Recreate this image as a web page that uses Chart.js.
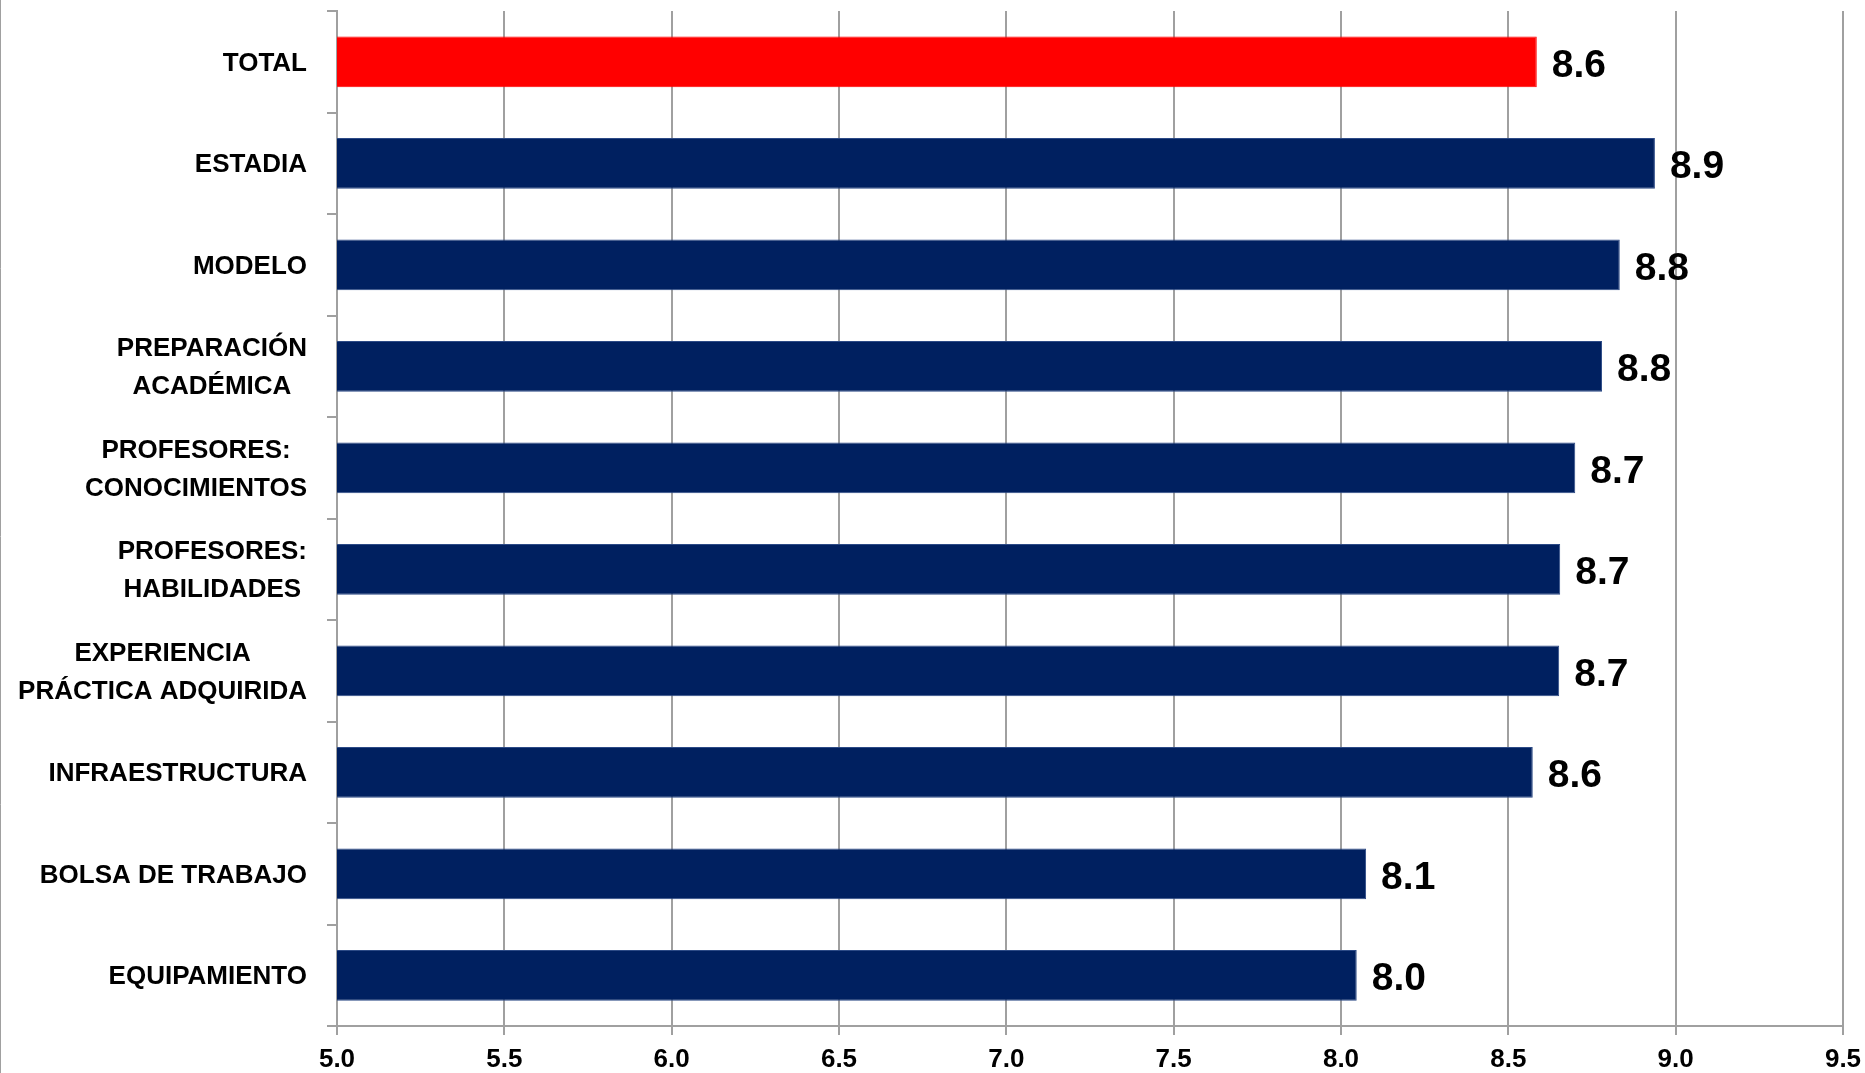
<!DOCTYPE html>
<html>
<head>
<meta charset="utf-8">
<script src="https://cdn.jsdelivr.net/npm/chart.js@4.4.1/dist/chart.umd.min.js"></script>
<style>
  html, body { margin: 0; padding: 0; background: #fff; }
  #wrap { width: 1865px; height: 1073px; }
</style>
</head>
<body>
<div id="wrap"><canvas id="chart" width="1865" height="1073"></canvas></div>
<script>
// categorías (cada una en sus líneas)
const categories = [
  ["TOTAL"],
  ["ESTADIA"],
  ["MODELO"],
  ["PREPARACIÓN", "ACADÉMICA"],
  ["PROFESORES:", "CONOCIMIENTOS"],
  ["PROFESORES:", "HABILIDADES"],
  ["EXPERIENCIA", "PRÁCTICA ADQUIRIDA"],
  ["INFRAESTRUCTURA"],
  ["BOLSA DE TRABAJO"],
  ["EQUIPAMIENTO"]
];
const scores = [8.585, 8.938, 8.833, 8.78, 8.70, 8.655, 8.652, 8.573, 8.075, 8.047];
const barColors = ["#FF0000", "#002060", "#002060", "#002060", "#002060",
                   "#002060", "#002060", "#002060", "#002060", "#002060"];
const xMin = 5.0;
const xMax = 9.5;
const xStep = 0.5;

const FONT = "'Liberation Sans', Arial, sans-serif";
const GRID = "#a0a0a0";

// etiquetas de categoría: bloque alineado a la derecha, líneas centradas
const categoryLabels = {
  id: "categoryLabels",
  afterDraw(chart) {
    const ctx = chart.ctx;
    const yScale = chart.scales.y;
    const right = chart.chartArea.left - 30;
    const lineH = 38;
    ctx.save();
    ctx.font = "bold 26px " + FONT;
    ctx.fillStyle = "#000";
    ctx.textAlign = "center";
    ctx.textBaseline = "middle";
    categories.forEach((lines, i) => {
      const y = yScale.getPixelForValue(i) + 2;
      const blockW = Math.max(...lines.map((l) => ctx.measureText(l).width));
      const cx = right - blockW / 2;
      lines.forEach((l, j) => {
        ctx.fillText(l, cx, y + (j - (lines.length - 1) / 2) * lineH);
      });
    });
    // borde izquierdo del gráfico
    ctx.strokeStyle = GRID;
    ctx.lineWidth = 1;
    ctx.beginPath();
    ctx.moveTo(0.5, 0);
    ctx.lineTo(0.5, chart.height);
    ctx.stroke();
    ctx.restore();
  }
};

// valores al final de cada barra
const valueLabels = {
  id: "valueLabels",
  afterDatasetsDraw(chart) {
    const ctx = chart.ctx;
    const meta = chart.getDatasetMeta(0);
    ctx.save();
    ctx.font = "bold 39px " + FONT;
    ctx.fillStyle = "#000";
    ctx.textAlign = "left";
    ctx.textBaseline = "middle";
    meta.data.forEach((bar, i) => {
      ctx.fillText(scores[i].toFixed(1), bar.x + 15, bar.y + 4);
    });
    ctx.restore();
  }
};

new Chart(document.getElementById("chart"), {
  type: "bar",
  data: {
    labels: categories.map((c) => c.join(" ")),
    datasets: [
      {
        data: scores,
        backgroundColor: barColors,
        borderColor: barColors.map((c) => (c === "#002060" ? "#2c4a86" : c)),
        borderWidth: 1,
        barPercentage: 0.5,
        categoryPercentage: 1.0,
      },
    ],
  },
  options: {
    indexAxis: "y",
    responsive: false,
    animation: false,
    layout: { padding: { top: 11, right: 0, bottom: 0, left: 0 } },
    plugins: {
      legend: { display: false },
      tooltip: { enabled: false },
    },
    scales: {
      x: {
        min: xMin,
        max: xMax,
        ticks: {
          stepSize: xStep,
          padding: 9,
          color: "#000",
          font: { family: FONT, size: 26, weight: "bold" },
          callback: (v) => Number(v).toFixed(1),
        },
        grid: {
          color: GRID,
          lineWidth: 2,
          drawTicks: true,
          tickLength: 9,
        },
        border: { display: true, color: GRID, width: 2 },
        afterFit: (scale) => {
          scale.height = 47;
          scale.paddingRight = 22;
          scale.paddingLeft = 0;
        },
      },
      y: {
        ticks: { display: false },
        grid: {
          offset: true,
          drawOnChartArea: false,
          drawTicks: true,
          tickLength: 10,
          color: GRID,
          lineWidth: 2,
        },
        border: { display: true, color: GRID, width: 2 },
        afterFit: (scale) => {
          scale.width = 337;
        },
      },
    },
  },
  plugins: [categoryLabels, valueLabels],
});
</script>
</body>
</html>
